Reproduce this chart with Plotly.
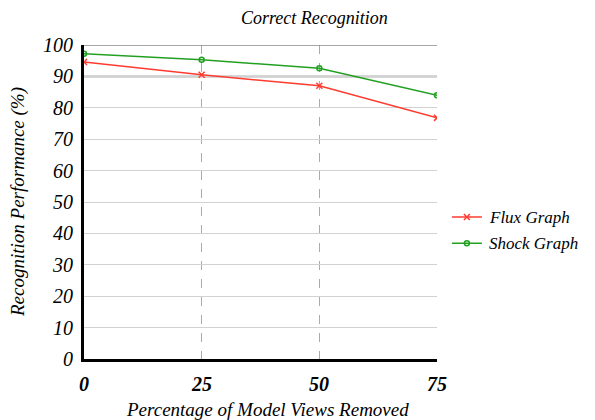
import plotly.graph_objects as go

x_vals = [0, 25, 50, 75]
flux_graph = [94.6, 90.5, 87.0, 76.8]
shock_graph = [97.2, 95.3, 92.6, 84.0]
y_ticks = [0, 10, 20, 30, 40, 50, 60, 70, 80, 90, 100]
series_names = ["Flux Graph", "Shock Graph"]
title_text = "Correct Recognition"
x_title = "Percentage of Model Views Removed"
y_title = "Recognition Performance (%)"

FF = "Liberation Serif"

fig = go.Figure()
fig.add_trace(go.Scatter(
    x=x_vals, y=flux_graph, mode="lines+markers", name=" ",
    line=dict(color="#ff3b30", width=1.5),
    marker=dict(symbol="x-thin", size=6, color="#ff3b30", line=dict(width=1.5, color="#ff3b30")),
))
fig.add_trace(go.Scatter(
    x=x_vals, y=shock_graph, mode="lines+markers", name=" ",
    line=dict(color="#22a022", width=1.5),
    marker=dict(symbol="circle-open", size=5, color="#22a022", line=dict(width=1.5)),
))

fig.add_shape(type="line", xref="paper", x0=0, x1=1, yref="y", y0=90, y1=90,
              line=dict(color="#c8c8c8", width=2.5), layer="below")
fig.add_shape(type="line", xref="paper", x0=0, x1=1, yref="y", y0=100, y1=100,
              line=dict(color="#888888", width=1.5))

fig.add_annotation(x=0.652, y=1.086, xref="paper", yref="paper", showarrow=False,
                   text="<i>%s</i>" % title_text, xanchor="center", yanchor="middle",
                   font=dict(family=FF, size=18, color="black"))
fig.add_annotation(x=0.521, y=-0.162, xref="paper", yref="paper", showarrow=False,
                   text="<i>%s</i>" % x_title, xanchor="center", yanchor="middle",
                   font=dict(family=FF, size=19, color="black"))
fig.add_annotation(x=-0.187, y=0.5, xref="paper", yref="paper", showarrow=False,
                   text="<i>%s</i>" % y_title, xanchor="center", yanchor="middle", textangle=-90,
                   font=dict(family=FF, size=19, color="black"))
for v in x_vals:
    fig.add_annotation(x=v, y=-0.08, xref="x", yref="paper", showarrow=False,
                       text="<b><i>%d</i></b>" % v, xanchor="center", yanchor="middle",
                       font=dict(family=FF, size=20, color="black"))
for v in y_ticks:
    fig.add_annotation(x=-0.025, y=v, xref="paper", yref="y", showarrow=False,
                       text="<i>%d</i>" % v, xanchor="right", yanchor="middle",
                       font=dict(family=FF, size=20, color="black"))
for name, yp in zip(series_names, [0.452, 0.368]):
    fig.add_annotation(x=1.142, y=yp, xref="paper", yref="paper", showarrow=False,
                       text="<i>%s</i>" % name, xanchor="left", yanchor="middle",
                       font=dict(family=FF, size=17, color="black"))

fig.update_layout(
    width=595, height=420,
    margin=dict(l=84, r=158, t=45, b=61, autoexpand=False),
    paper_bgcolor="white", plot_bgcolor="white",
    showlegend=True,
    legend=dict(x=1.028, y=0.41, xanchor="left", yanchor="middle",
                font=dict(family=FF, size=18, color="black"),
                bgcolor="rgba(0,0,0,0)", tracegroupgap=6, itemwidth=30),
    xaxis=dict(
        range=[0, 75], tickvals=x_vals, showticklabels=False,
        showgrid=True, gridcolor="#aaaaaa", griddash="dash", gridwidth=1,
        zeroline=False, showline=True, linecolor="black", linewidth=2.5,
        ticks="", automargin=False,
    ),
    yaxis=dict(
        range=[0, 100], tickvals=y_ticks, showticklabels=False,
        showgrid=True, gridcolor="#d2d2d2", gridwidth=1,
        zeroline=False, showline=True, linecolor="black", linewidth=2.5,
        ticks="", automargin=False,
    ),
)
fig.write_html("out.html", config={"displayModeBar": False},
               post_script="document.body.style.margin='0';")
